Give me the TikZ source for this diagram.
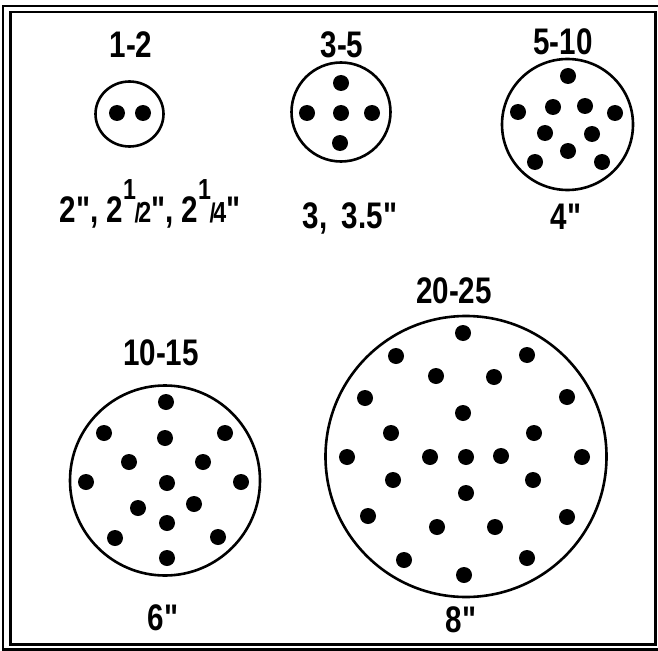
\documentclass[tikz,border=0pt]{standalone}
\usepackage{fontspec}
\newfontfamily\lblfont[FakeStretch=0.8]{Liberation Sans}
\usepackage{tikz}
\usetikzlibrary{shapes.geometric}

% small raised fraction as printed on the size line
\newcommand{\upfrac}[2]{\raisebox{0.62em}{\fontsize{29}{29}\selectfont#1}\kern-0.04em{\fontsize{27}{27}\selectfont/}\kern-0.06em{\fontsize{29}{29}\selectfont#2}}

\begin{document}
\begin{tikzpicture}[
  x=1pt, y=-1pt,
  socket/.style={draw, circle, line width=2.6pt, inner sep=0pt},
  lbl/.style={anchor=base, inner sep=0pt, font=\lblfont\bfseries\fontsize{37}{37}\selectfont},
  frame/.style={line width=2.6pt},
]
  \useasboundingbox (0,0) rectangle (658,650);
  \draw[frame] (3,6) rectangle (661.5,649.5);
  \draw[frame] (10.3,12) rectangle (655.5,644.5);

  % sockets
  \node[socket, ellipse, minimum width=68pt, minimum height=65pt] (s12) at (129.5,114) {};
  \node[socket, minimum size=99pt]  (s35)   at (341,112) {};
  \node[socket, minimum size=131pt] (s510)  at (567.5,124.5) {};
  \node[socket, minimum size=190pt] (s1015) at (165,480.5) {};
  \node[socket, minimum size=281pt] (s2025) at (466,456.5) {};

  % contacts
  \foreach \p in {(117,113),(143,113),
                  (341,83),(307,113),(341,113),(372,113),(340,143),
                  (568,76),(553,107),(585,106),(518,112),(615,113),
                  (545,133),(592,134),(568,151),(535,162),(602,162),
                  (166,402),(104,433),(225,433),(165,438),(129,462),
                  (203,462),(86,482),(241,482),(167,483),(138,508),
                  (194,504),(167,523),(115,538),(218,537),(167,558),
                  (463,333),(396,356),(527,355),(436,376),(494,377),
                  (365,398),(567,397),(463,413),(391,433),(534,433),
                  (347,457),(430,457),(466,457),(501,456),(582,457),
                  (393,480),(533,480),(466,493),(368,516),(567,517),
                  (437,527),(495,527),(404,560),(527,558),(464,575)}
    \fill \p circle (8);

  % counts
  \node[lbl] (n12)   at (131,58)  {1-2};
  \node[lbl] (n35)   at (342,58)  {3-5};
  \node[lbl] (n510)  at (563,55)  {5-10};
  \node[lbl] (n1015) at (161,365) {10-15};
  \node[lbl] (n2025) at (454,303) {20-25};

  % sizes
  \node[lbl] (d12)   at (150,222) {2", 2\upfrac12", 2\upfrac14"};
  \node[lbl] (d35)   at (350,228) {3,\, 3.5"};
  \node[lbl] (d510)  at (566,229) {4"};
  \node[lbl] (d1015) at (163,630) {6"};
  \node[lbl] (d2025) at (461,632) {8"};
\end{tikzpicture}
\end{document}
